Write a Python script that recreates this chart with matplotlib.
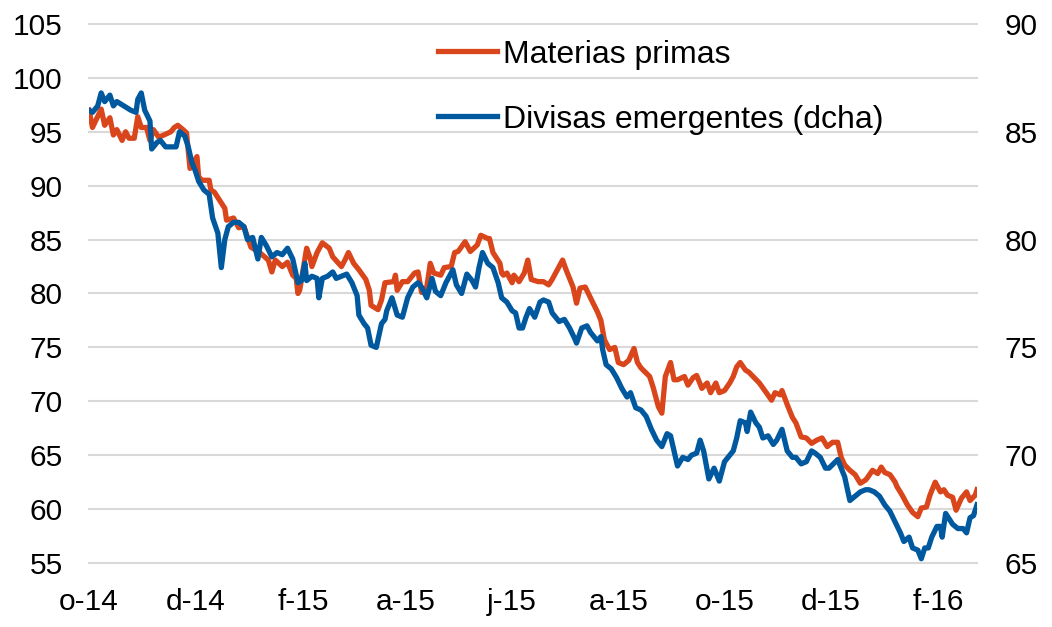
import pandas as pd
import matplotlib.pyplot as plt

# Materias primas (eje izquierdo)
fechas_mp = [
    '2014-10-01', '2014-10-03', '2014-10-08', '2014-10-10', '2014-10-13', '2014-10-15',
    '2014-10-17', '2014-10-20', '2014-10-22', '2014-10-24', '2014-10-27', '2014-10-29',
    '2014-10-31', '2014-11-03', '2014-11-05', '2014-11-07', '2014-11-10', '2014-11-13',
    '2014-11-17', '2014-11-19', '2014-11-21', '2014-11-24', '2014-11-26', '2014-11-28',
    '2014-12-02', '2014-12-03', '2014-12-05', '2014-12-09', '2014-12-10', '2014-12-12',
    '2014-12-16', '2014-12-18', '2014-12-19', '2014-12-23', '2014-12-26', '2014-12-29',
    '2015-01-02', '2015-01-05', '2015-01-07', '2015-01-12', '2015-01-14', '2015-01-16',
    '2015-01-20', '2015-01-23', '2015-01-26', '2015-01-28', '2015-01-29', '2015-01-30',
    '2015-02-03', '2015-02-05', '2015-02-06', '2015-02-09', '2015-02-12', '2015-02-16',
    '2015-02-18', '2015-02-23', '2015-02-25', '2015-02-27', '2015-03-02', '2015-03-05',
    '2015-03-09', '2015-03-11', '2015-03-12', '2015-03-16', '2015-03-18', '2015-03-20',
    '2015-03-25', '2015-03-26', '2015-03-27', '2015-03-30', '2015-04-02', '2015-04-06',
    '2015-04-08', '2015-04-10', '2015-04-13', '2015-04-15', '2015-04-17', '2015-04-21',
    '2015-04-23', '2015-04-27', '2015-04-29', '2015-05-01', '2015-05-05', '2015-05-08',
    '2015-05-12', '2015-05-14', '2015-05-18', '2015-05-19', '2015-05-21', '2015-05-25',
    '2015-05-26', '2015-05-27', '2015-05-29', '2015-06-01', '2015-06-02', '2015-06-05',
    '2015-06-08', '2015-06-10', '2015-06-12', '2015-06-16', '2015-06-19', '2015-06-22',
    '2015-06-24', '2015-06-26', '2015-06-30', '2015-07-02', '2015-07-06', '2015-07-08',
    '2015-07-10', '2015-07-13', '2015-07-16', '2015-07-20', '2015-07-22', '2015-07-24',
    '2015-07-27', '2015-07-30', '2015-08-01', '2015-08-04', '2015-08-07', '2015-08-10',
    '2015-08-12', '2015-08-14', '2015-08-19', '2015-08-21', '2015-08-24', '2015-08-26',
    '2015-08-28', '2015-08-31', '2015-09-02', '2015-09-04', '2015-09-08', '2015-09-10',
    '2015-09-13', '2015-09-15', '2015-09-18', '2015-09-21', '2015-09-23', '2015-09-26',
    '2015-09-28', '2015-10-01', '2015-10-04', '2015-10-06', '2015-10-08', '2015-10-10',
    '2015-10-13', '2015-10-15', '2015-10-18', '2015-10-21', '2015-10-25', '2015-10-28',
    '2015-10-30', '2015-11-02', '2015-11-03', '2015-11-06', '2015-11-09', '2015-11-11',
    '2015-11-14', '2015-11-17', '2015-11-20', '2015-11-23', '2015-11-26', '2015-11-29',
    '2015-12-02', '2015-12-05', '2015-12-07', '2015-12-09', '2015-12-12', '2015-12-15',
    '2015-12-18', '2015-12-21', '2015-12-22', '2015-12-25', '2015-12-28', '2015-12-30',
    '2016-01-01', '2016-01-04', '2016-01-07', '2016-01-08', '2016-01-11', '2016-01-14',
    '2016-01-17', '2016-01-20', '2016-01-22', '2016-01-25', '2016-01-27', '2016-01-30',
    '2016-02-02', '2016-02-04', '2016-02-06', '2016-02-09', '2016-02-11', '2016-02-14',
    '2016-02-17', '2016-02-19', '2016-02-22', '2016-02-23',
]
materias_primas = [
    97.0, 95.4, 97.1, 95.6, 96.3, 94.7,
    95.2, 94.2, 95.0, 94.4, 94.4, 96.4,
    95.4, 95.4, 94.2, 95.2, 94.5, 94.7,
    95.0, 95.4, 95.6, 95.2, 94.9, 91.6,
    92.7, 90.8, 90.5, 90.5, 89.6, 89.4,
    88.4, 87.9, 86.8, 87.0, 86.1, 86.2,
    84.3, 84.0, 83.8, 83.1, 82.0, 83.1,
    82.5, 82.9, 81.7, 81.4, 80.0, 80.3,
    84.2, 83.3, 82.5, 83.8, 84.7, 84.2,
    83.4, 82.5, 83.1, 83.8, 82.8, 82.2,
    81.3, 80.3, 78.9, 78.5, 79.4, 81.0,
    81.1, 81.7, 80.3, 81.1, 81.1, 81.9,
    82.0, 80.1, 80.6, 82.8, 81.9, 81.7,
    82.4, 82.5, 83.8, 83.9, 84.8, 83.9,
    84.5, 85.4, 85.1, 85.1, 83.8, 82.8,
    81.9, 81.7, 81.9, 81.0, 81.7, 81.1,
    81.9, 83.1, 81.3, 81.1, 81.1, 80.8,
    81.3, 81.9, 83.1, 82.2, 80.6, 79.1,
    80.5, 80.6, 79.6, 78.3, 77.5, 75.7,
    74.8, 75.0, 73.6, 73.4, 73.8, 74.9,
    73.6, 73.1, 72.3, 71.3, 69.5, 68.9,
    72.3, 73.6, 72.0, 72.0, 72.3, 71.5,
    72.2, 72.4, 71.2, 71.7, 70.8, 71.7,
    70.8, 71.0, 71.7, 72.3, 73.2, 73.6,
    72.9, 72.7, 72.2, 71.7, 70.8, 70.1,
    70.8, 70.6, 71.0, 69.7, 68.5, 68.0,
    66.7, 66.6, 66.1, 66.4, 66.6, 65.8,
    66.2, 66.2, 64.8, 64.1, 63.6, 63.2,
    62.4, 62.7, 62.9, 63.6, 63.3, 63.9,
    63.4, 63.2, 62.5, 62.1, 61.3, 60.4,
    59.7, 59.3, 60.1, 60.2, 61.3, 62.5,
    61.6, 61.8, 61.3, 61.1, 59.9, 61.0,
    61.6, 60.8, 61.3, 61.8,
]

# Divisas emergentes (eje derecho)
fechas_de = [
    '2014-10-01', '2014-10-03', '2014-10-06', '2014-10-08', '2014-10-10', '2014-10-13',
    '2014-10-15', '2014-10-17', '2014-10-21', '2014-10-25', '2014-10-28', '2014-10-29',
    '2014-10-31', '2014-11-02', '2014-11-05', '2014-11-06', '2014-11-09', '2014-11-11',
    '2014-11-14', '2014-11-17', '2014-11-20', '2014-11-22', '2014-11-25', '2014-11-27',
    '2014-11-29', '2014-12-01', '2014-12-03', '2014-12-06', '2014-12-09', '2014-12-11',
    '2014-12-14', '2014-12-16', '2014-12-18', '2014-12-20', '2014-12-23', '2014-12-26',
    '2014-12-29', '2014-12-31', '2015-01-03', '2015-01-06', '2015-01-08', '2015-01-11',
    '2015-01-14', '2015-01-17', '2015-01-20', '2015-01-23', '2015-01-26', '2015-01-29',
    '2015-01-31', '2015-02-02', '2015-02-03', '2015-02-06', '2015-02-09', '2015-02-10',
    '2015-02-12', '2015-02-15', '2015-02-18', '2015-02-20', '2015-02-23', '2015-02-26',
    '2015-03-01', '2015-03-04', '2015-03-05', '2015-03-08', '2015-03-10', '2015-03-12',
    '2015-03-15', '2015-03-18', '2015-03-20', '2015-03-21', '2015-03-24', '2015-03-27',
    '2015-03-30', '2015-04-02', '2015-04-05', '2015-04-08', '2015-04-10', '2015-04-13',
    '2015-04-16', '2015-04-18', '2015-04-21', '2015-04-24', '2015-04-28', '2015-04-30',
    '2015-05-03', '2015-05-06', '2015-05-09', '2015-05-11', '2015-05-13', '2015-05-15',
    '2015-05-18', '2015-05-21', '2015-05-24', '2015-05-26', '2015-05-29', '2015-06-01',
    '2015-06-03', '2015-06-05', '2015-06-07', '2015-06-09', '2015-06-11', '2015-06-14',
    '2015-06-17', '2015-06-19', '2015-06-22', '2015-06-24', '2015-06-28', '2015-07-01',
    '2015-07-04', '2015-07-07', '2015-07-08', '2015-07-11', '2015-07-14', '2015-07-16',
    '2015-07-20', '2015-07-22', '2015-07-23', '2015-07-25', '2015-07-28', '2015-07-31',
    '2015-08-03', '2015-08-06', '2015-08-08', '2015-08-11', '2015-08-14', '2015-08-17',
    '2015-08-20', '2015-08-23', '2015-08-26', '2015-08-29', '2015-08-31', '2015-09-02',
    '2015-09-04', '2015-09-07', '2015-09-10', '2015-09-12', '2015-09-15', '2015-09-17',
    '2015-09-19', '2015-09-22', '2015-09-25', '2015-09-28', '2015-10-01', '2015-10-04',
    '2015-10-06', '2015-10-08', '2015-10-10', '2015-10-13', '2015-10-14', '2015-10-16',
    '2015-10-19', '2015-10-21', '2015-10-23', '2015-10-26', '2015-10-29', '2015-10-31',
    '2015-11-03', '2015-11-06', '2015-11-09', '2015-11-11', '2015-11-14', '2015-11-17',
    '2015-11-20', '2015-11-22', '2015-11-25', '2015-11-28', '2015-11-30', '2015-12-05',
    '2015-12-07', '2015-12-09', '2015-12-12', '2015-12-15', '2015-12-18', '2015-12-21',
    '2015-12-23', '2015-12-26', '2015-12-29', '2016-01-01', '2016-01-04', '2016-01-07',
    '2016-01-10', '2016-01-12', '2016-01-15', '2016-01-17', '2016-01-20', '2016-01-22',
    '2016-01-24', '2016-01-26', '2016-01-28', '2016-01-31', '2016-02-02', '2016-02-03',
    '2016-02-05', '2016-02-09', '2016-02-12', '2016-02-15', '2016-02-17', '2016-02-19',
    '2016-02-21', '2016-02-23',
]
divisas = [
    86.0, 85.9, 86.2, 86.8, 86.4, 86.7,
    86.2, 86.4, 86.2, 86.0, 85.9, 86.5,
    86.8, 86.0, 85.5, 84.2, 84.5, 84.6,
    84.3, 84.3, 84.3, 85.0, 84.8, 84.3,
    83.6, 83.2, 82.7, 82.3, 82.1, 81.0,
    80.3, 78.7, 80.0, 80.6, 80.8, 80.8,
    80.6, 80.0, 80.1, 79.1, 80.1, 79.7,
    79.2, 79.4, 79.3, 79.6, 79.1, 78.0,
    78.1, 78.9, 78.1, 78.3, 78.2, 77.3,
    78.2, 78.3, 78.5, 78.2, 78.3, 78.4,
    78.0, 77.4, 76.5, 76.1, 75.9, 75.1,
    75.0, 76.1, 76.3, 76.7, 77.3, 76.5,
    76.4, 77.3, 77.8, 78.0, 77.8, 77.3,
    78.2, 77.6, 77.4, 78.0, 78.6, 77.9,
    77.5, 78.4, 78.1, 77.8, 78.7, 79.4,
    78.9, 78.7, 78.0, 77.3, 77.1, 76.7,
    76.6, 75.9, 75.9, 76.4, 76.8, 76.4,
    77.1, 77.2, 77.1, 76.6, 76.2, 76.3,
    75.9, 75.4, 75.2, 75.9, 76.0, 75.7,
    75.3, 75.5, 74.9, 74.2, 74.0, 73.6,
    73.1, 72.7, 72.9, 72.2, 72.1, 71.8,
    71.2, 70.7, 70.4, 71.0, 70.9, 70.2,
    69.5, 69.9, 69.8, 70.0, 70.1, 70.7,
    70.2, 68.9, 69.4, 68.8, 69.7, 70.0,
    70.2, 70.8, 71.6, 71.5, 71.1, 72.0,
    71.5, 71.3, 70.8, 70.9, 70.5, 70.7,
    71.2, 70.2, 69.9, 69.9, 69.6, 69.7,
    70.2, 70.1, 69.9, 69.4, 69.4, 69.8,
    69.4, 69.0, 67.9, 68.1, 68.3, 68.4,
    68.4, 68.3, 68.1, 67.7, 67.4, 66.9,
    66.4, 66.0, 66.2, 65.7, 65.6, 65.2,
    65.7, 65.7, 66.2, 66.7, 66.7, 66.2,
    67.3, 66.8, 66.6, 66.6, 66.4, 67.1,
    67.2, 67.7,
]

meses = ['2014-10-01', '2014-12-01', '2015-02-01', '2015-04-01', '2015-06-01',
         '2015-08-01', '2015-10-01', '2015-12-01', '2016-02-01']
etiquetas = ['o-14', 'd-14', 'f-15', 'a-15', 'j-15', 'a-15', 'o-15', 'd-15', 'f-16']

naranja = '#D9461B'
azul = '#00599F'

plt.rcParams['font.family'] = ['Liberation Sans', 'DejaVu Sans']

fig = plt.figure(figsize=(10.52, 6.27), dpi=100)
ax = fig.add_axes([0.0846, 0.102, 0.8441, 0.8598])
ax2 = ax.twinx()

l1, = ax.plot(pd.to_datetime(fechas_mp), materias_primas, color=naranja, lw=3.8,
              solid_joinstyle='round', label='Materias primas')
l2, = ax2.plot(pd.to_datetime(fechas_de), divisas, color=azul, lw=3.8,
               solid_joinstyle='round', label='Divisas emergentes (dcha)')

ax.set_ylim(55, 105)
ax.set_yticks(range(55, 106, 5))
ax2.set_ylim(65, 90)
ax2.set_yticks(range(65, 91, 5))

ax.set_xlim(pd.Timestamp('2014-10-01'), pd.Timestamp('2016-02-23'))
ax.set_xticks(pd.to_datetime(meses))
ax.set_xticklabels(etiquetas)

ax.grid(axis='y', color='#D9D9D9', lw=1.5)
ax.set_axisbelow(True)
for g in ax.get_ygridlines():
    g.set_clip_on(False)

for a in (ax, ax2):
    for s in a.spines.values():
        s.set_visible(False)
    a.tick_params(length=0, colors='black', labelsize=21.5)
ax.tick_params(axis='y', pad=19)
ax2.tick_params(axis='y', pad=20)
ax.tick_params(axis='x', pad=18)

ax2.legend(handles=[l1, l2], loc='upper left', bbox_to_anchor=(0.4163, 0.937),
           bbox_transform=fig.transFigure, frameon=False, borderpad=0,
           borderaxespad=0, handlelength=1.85, handletextpad=0.2,
           labelspacing=1.1, fontsize=23)

plt.savefig('out.png', dpi=100)
